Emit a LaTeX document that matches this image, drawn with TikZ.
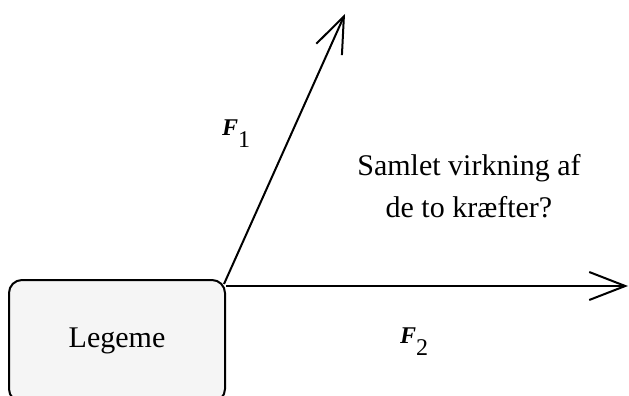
\documentclass[tikz,border=0pt]{standalone}
\usepackage{fontspec}
\setmainfont{Liberation Serif}
\usetikzlibrary{arrows.meta}
\begin{document}
\begin{tikzpicture}[x=1pt,y=-1pt,
  force/.style={line width=2pt,-{Straight Barb[length=36pt,width=28pt,line width=2pt]}},
  bodybox/.style={draw,line width=2pt,rounded corners=13pt,fill=black!4,
    minimum width=216pt,minimum height=122pt,inner sep=0pt,
    font=\fontsize{30pt}{36pt}\selectfont},
  flabel/.style={anchor=base west,inner sep=0pt,font=\fontsize{24pt}{28pt}\selectfont},
  note/.style={align=center,inner sep=0pt,font=\fontsize{30pt}{42pt}\selectfont}]
\useasboundingbox (0,0) rectangle (629,396);
\clip (0,0) rectangle (629,396);
\node[bodybox] (body) at (117,341) {Legeme};
\coordinate (o1) at (224,284);
\coordinate (o2) at (226,286);
\coordinate (t1) at (345,14);
\coordinate (t2) at (628,286);
\draw[force] (o1) -- (t1);
\draw[force] (o2) -- (t2);
\node[flabel] (f1) at (222,135) {\textbf{\textit{F}}\raisebox{-13pt}{1}};
\node[flabel] (f2) at (400,343) {\textbf{\textit{F}}\raisebox{-12pt}{2}};
\node[note] (q) at (469,186) {Samlet virkning af\\de to kræfter?};
\end{tikzpicture}
\end{document}
